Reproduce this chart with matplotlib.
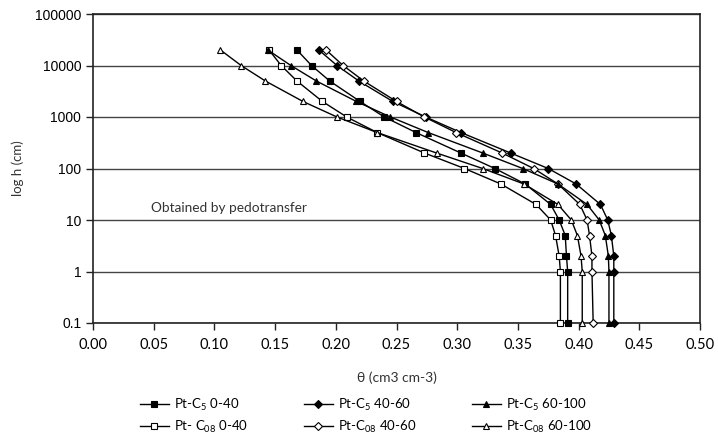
import matplotlib
matplotlib.use('Agg')
import matplotlib.pyplot as plt
from matplotlib.ticker import FixedLocator, FixedFormatter

plt.rcParams['font.family'] = ['Lato', 'DejaVu Sans']
plt.rcParams['mathtext.fontset'] = 'custom'
plt.rcParams['mathtext.rm'] = 'Lato'
plt.rcParams['mathtext.it'] = 'Lato'

# succion (cm) y contenido de agua de cada perfil
h = [20000, 10000, 5000, 2000, 1000, 500, 200, 100, 50, 20, 10, 5, 2, 1, 0.1]

c5_0_40 = [0.168, 0.180, 0.195, 0.220, 0.240, 0.266, 0.303, 0.331, 0.356, 0.377, 0.384, 0.389, 0.390, 0.391, 0.391]
c5_40_60 = [0.186, 0.201, 0.219, 0.247, 0.274, 0.303, 0.344, 0.375, 0.398, 0.418, 0.424, 0.427, 0.429, 0.429, 0.429]
c5_60_100 = [0.144, 0.163, 0.184, 0.217, 0.245, 0.276, 0.321, 0.354, 0.383, 0.407, 0.417, 0.422, 0.4245, 0.425, 0.425]
c08_0_40 = [0.145, 0.155, 0.168, 0.189, 0.209, 0.234, 0.273, 0.306, 0.336, 0.365, 0.377, 0.381, 0.384, 0.385, 0.385]
c08_40_60 = [0.192, 0.206, 0.223, 0.250, 0.273, 0.299, 0.337, 0.363, 0.383, 0.401, 0.407, 0.409, 0.411, 0.411, 0.412]
c08_60_100 = [0.105, 0.122, 0.142, 0.173, 0.201, 0.234, 0.283, 0.321, 0.355, 0.383, 0.394, 0.399, 0.402, 0.403, 0.403]

x_ticks = [0.00, 0.05, 0.10, 0.15, 0.20, 0.25, 0.30, 0.35, 0.40, 0.45, 0.50]
y_ticks = [0.1, 1, 10, 100, 1000, 10000, 100000]
y_labels = ['0.1', '1', '10', '100', '1000', '10000', '100000']

fig = plt.figure(figsize=(7.18, 4.41), dpi=100)
ax = fig.add_axes([93/718, 1-323/441, (700-93)/718, (323-14)/441])

series = [
    (c5_0_40, 's', 'black', 'Pt-C$_5$ 0-40'),
    (c08_0_40, 's', 'white', 'Pt- C$_{08}$ 0-40'),
    (c5_40_60, 'D', 'black', 'Pt-C$_5$ 40-60'),
    (c08_40_60, 'D', 'white', 'Pt-C$_{08}$ 40-60'),
    (c5_60_100, '^', 'black', 'Pt-C$_5$ 60-100'),
    (c08_60_100, '^', 'white', 'Pt-C$_{08}$ 60-100'),
]
for vals, mk, fc, lab in series:
    ms = 4 if mk == 'D' else 5
    ax.plot(vals, h, color='black', lw=1, marker=mk, markersize=ms,
            markerfacecolor=fc, markeredgecolor='black', markeredgewidth=0.8,
            label=lab, clip_on=False, zorder=3)

ax.set_yscale('log')
ax.set_ylim(0.1, 100000)
ax.set_xlim(0, 0.5)
ax.yaxis.set_major_locator(FixedLocator(y_ticks))
ax.yaxis.set_major_formatter(FixedFormatter(y_labels))
ax.yaxis.set_minor_locator(FixedLocator([]))
ax.set_xticks(x_ticks)
ax.set_xticklabels(['%.2f' % t for t in x_ticks])
ax.grid(axis='y', color='#444444', lw=1)
ax.set_axisbelow(True)
for s in ax.spines.values():
    s.set_color('#222222')
    s.set_linewidth(1.2)
ax.tick_params(direction='out', length=5, width=1, colors='#222222', labelcolor='black')
ax.tick_params(axis='x', labelsize=10.5, pad=6)
for t in ax.get_yticklabels():
    t.set_fontfamily('Liberation Sans')
    t.set_fontsize(10)

ax.set_ylabel('log h (cm)', fontsize=9.5, color='#333333', labelpad=8)
ax.set_xlabel('θ (cm3 cm-3)', fontsize=10, color='#333333', labelpad=14)
ax.text(0.048, 14, 'Obtained by pedotransfer', fontsize=9.8, color='#333333')

fig.legend(loc='center', bbox_to_anchor=(366/718, (441-416)/441), ncol=3,
           frameon=False, fontsize=9.5, handlelength=2.2, columnspacing=4.2,
           handletextpad=0.4, labelspacing=0.45)

fig.savefig('out.png', dpi=100)
